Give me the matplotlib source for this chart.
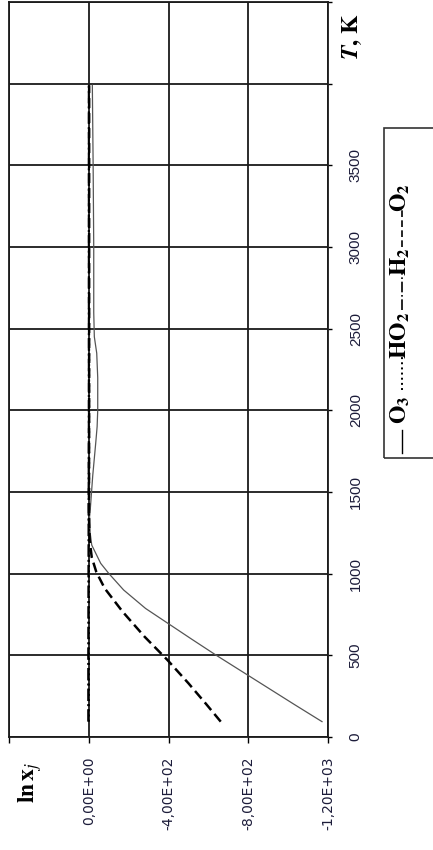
import matplotlib
matplotlib.use('Agg')
import matplotlib.pyplot as plt
from matplotlib.lines import Line2D
from matplotlib.patches import Rectangle

plt.rcParams['mathtext.fontset'] = 'stix'
plt.rcParams['font.family'] = ['Liberation Sans', 'DejaVu Sans']

# ===== DATA =====
T_O3 = [94, 200, 300, 400, 500, 600, 700, 787, 900, 1002, 1063, 1175, 1250, 1350, 1400,
        1600, 1800, 1900, 2000, 2200, 2350, 2450, 2600, 3000, 3500, 3990]
LN_O3 = [-1170, -1030, -900, -770, -640, -515, -392, -285, -175, -100, -60, -15, -7, -4, -8,
         -20, -35, -42, -45, -45, -40, -28, -25, -25, -22, -18]

T_HO2 = [94, 500, 1000, 1500, 2000, 2500, 3000, 3500, 3990]
LN_HO2 = [-1, -1, -1, -2, -2, -2, -1, -1, -1]

T_H2 = [94, 500, 1000, 1500, 2000, 2500, 3000, 3500, 3990]
LN_H2 = [3, 3, 2, 1, 0, 0, 0, 0, 0]

T_O2 = [94, 200, 329, 471, 614, 767, 910, 1010, 1100, 1200, 1300, 1400,
        2000, 2500, 3000, 3500, 3990]
LN_O2 = [-662, -590, -500, -395, -280, -170, -80, -38, -15, -5, -2, -1,
         -2, -2, -2, -2, -2]

LN_TICKS = [400, 0, -400, -800, -1200]
LN_LABELS = ['', '0,00E+00', '-4,00E+02', '-8,00E+02', '-1,20E+03']
T_TICKS = [0, 500, 1000, 1500, 2000, 2500, 3000, 3500, 4000, 4500]
T_LABELS = ['0', '500', '1000', '1500', '2000', '2500', '3000', '3500', '', '']

W, H = 433, 850
fig = plt.figure(figsize=(W / 100, H / 100), dpi=100)
ax = fig.add_axes([9 / W, 1 - 737 / H, 319 / W, 735 / H])

ax.plot(LN_O3, T_O3, color='#555555', lw=0.9, ls='-')
ax.plot(LN_HO2, T_HO2, color='black', lw=1.4, ls=':')
ax.plot(LN_H2, T_H2, color='black', lw=1.4, ls='-.')
ax.plot(LN_O2, T_O2, color='black', lw=1.8, ls=(0, (4, 2)))

ax.set_xlim(400, -1200)
ax.set_ylim(0, 4500)
ax.set_xticks(LN_TICKS)
ax.set_xticklabels(LN_LABELS, family=['DejaVu Sans'])
ax.set_yticks(T_TICKS)
ax.set_yticklabels(T_LABELS)
ax.yaxis.tick_right()

ax.tick_params(axis='x', direction='out', length=4, width=1, pad=10,
               labelrotation=90, labelsize=10, labelcolor='#1c1c3a')
ax.tick_params(axis='y', direction='out', length=3, width=1, pad=12,
               labelrotation=90, labelsize=11, labelcolor='#1c1c3a')
for lab in ax.get_yticklabels():
    lab.set_verticalalignment('center')

ax.grid(True, color='#1a1a1a', lw=1.3)
for s in ax.spines.values():
    s.set_color('#1a1a1a')
    s.set_linewidth(1.3)

# axis titles (rotated with the chart)
fig.text(30 / W, 1 - 782 / H, r'$\mathbf{ln\,x}_{\mathit{j}}$', rotation=90,
         fontsize=17, ha='center', va='center')
fig.text(352 / W, 1 - 37 / H, r'$\mathbfit{T}\mathbf{,\,K}$', rotation=90,
         fontsize=17, ha='center', va='center')

# legend, drawn by hand because it is rotated
fig.patches.append(Rectangle((384 / W, 1 - 458 / H), 0.3, 330 / H, transform=fig.transFigure,
                             fill=False, ec='#333333', lw=1.2))
lx = 402 / W
samples = [
    ('-', 1.0, (430, 453), r'$\mathbf{O_3}$', 410),
    (':', 1.4, (357, 390), r'$\mathbf{HO_2}$', 335),
    ('-.', 1.2, (273, 310), r'$\mathbf{H_2}$', 262),
    ((0, (4, 2)), 1.2, (210, 247), r'$\mathbf{O_2}$', 198),
]
for ls, lw, (y0, y1), name, yc in samples:
    fig.add_artist(Line2D([lx, lx], [1 - y1 / H, 1 - y0 / H], color='black', lw=lw, ls=ls,
                          transform=fig.transFigure))
    fig.text(400 / W, 1 - yc / H, name, rotation=90, fontsize=17, ha='center', va='center')

fig.savefig('out.png', dpi=100)
